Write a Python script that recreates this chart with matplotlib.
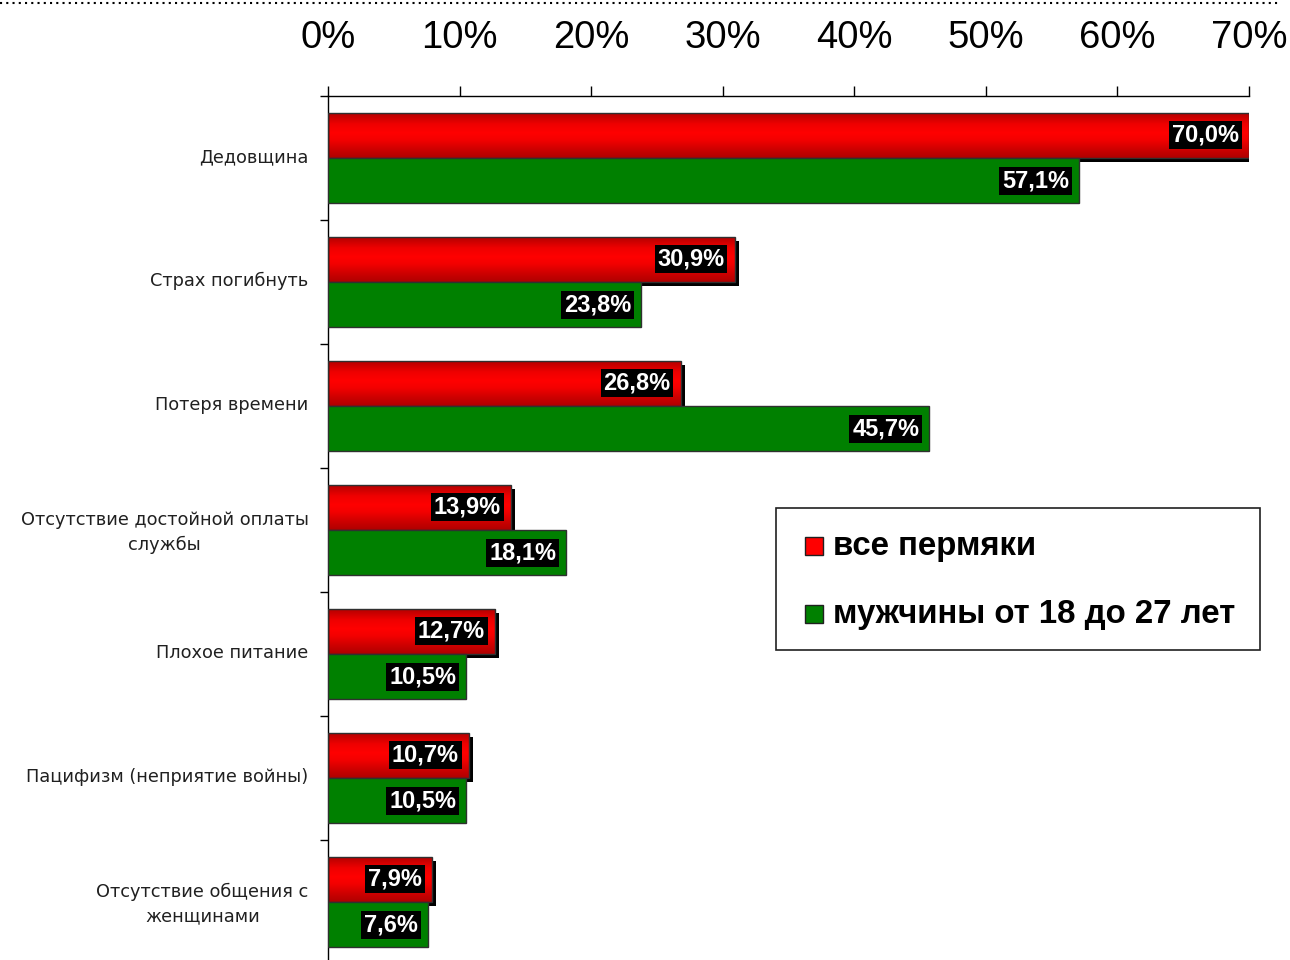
import matplotlib
matplotlib.use("Agg")
import matplotlib.pyplot as plt
import numpy as np
from matplotlib.patches import Rectangle
from matplotlib.lines import Line2D
from matplotlib.colors import LinearSegmentedColormap
from matplotlib.transforms import ScaledTranslation
import matplotlib.patheffects as pe

categories = [
    "Дедовщина",
    "Страх погибнуть",
    "Потеря времени",
    "Отсутствие достойной оплаты\nслужбы",
    "Плохое питание",
    "Пацифизм (неприятие войны)",
    "Отсутствие общения с\nженщинами",
]
all_perm = [70.0, 30.9, 26.8, 13.9, 12.7, 10.7, 7.9]
men_18_27 = [57.1, 23.8, 45.7, 18.1, 10.5, 10.5, 7.6]
series_names = ["все пермяки", "мужчины от 18 до 27 лет"]
xticks = [0, 10, 20, 30, 40, 50, 60, 70]
xtick_labels = [f"{t}%" for t in xticks]

W, H = 1290, 960
fig = plt.figure(figsize=(W / 100, H / 100), dpi=100)
ax = fig.add_axes([328 / W, -4 / H, (1249 - 328) / W, (964 - 96) / H])

n = len(categories)
y = np.arange(n)
bh = 0.363
red_c = y - 0.185
green_c = y + 0.185

# red bars with black shadow
red_bars = ax.barh(red_c, all_perm, height=bh, color="#ff0000", edgecolor="none", zorder=2)
for b in red_bars:
    b.set_path_effects([pe.SimplePatchShadow(offset=(3, -3), shadow_rgbFace="black", alpha=1.0), pe.Normal()])

# gradient overlay on red bars (dark top, bright middle, dark bottom)
cmap = LinearSegmentedColormap.from_list(
    "redgrad", [(0.0, "#b00000"), (0.25, "#ee0000"), (0.45, "#ff0000"), (0.6, "#f40000"),
                (0.85, "#c80000"), (1.0, "#b00000")])
grad = np.linspace(0, 1, 64).reshape(-1, 1)
for b in red_bars:
    x0, y0, w, h = b.get_x(), b.get_y(), b.get_width(), b.get_height()
    im = ax.imshow(grad, cmap=cmap, aspect="auto", extent=[x0, x0 + w, y0 + h, y0],
                   origin="upper", zorder=2.5, interpolation="bilinear")
    im.set_clip_path(b)
ax.barh(red_c, all_perm, height=bh, facecolor="none", edgecolor="#303030", linewidth=1.0, zorder=2.6)

green_bars = ax.barh(green_c, men_18_27, height=bh, color="#008000", edgecolor="#303030", linewidth=1.0, zorder=3)

# value labels
def add_labels(vals, centers):
    for v, c in zip(vals, centers):
        ax.annotate(f"{v:.1f}%".replace(".", ","), xy=(v, c), xytext=(-10, 0), textcoords="offset pixels",
                    ha="right", va="center", color="white", fontsize=17, fontweight="bold",
                    family="Liberation Sans", zorder=5,
                    bbox=dict(boxstyle="square,pad=0.12", facecolor="black", edgecolor="none"))

add_labels(all_perm, red_c)
add_labels(men_18_27, green_c)

ax.set_xlim(0, 70)
ax.set_ylim(n - 0.5, -0.5)

# spines
for s in ["right", "bottom"]:
    ax.spines[s].set_visible(False)
ax.spines["top"].set_color("black")
ax.spines["left"].set_color("black")
ax.spines["top"].set_linewidth(1.0)
ax.spines["left"].set_linewidth(1.0)

ax.xaxis.tick_top()
ax.set_xticks(xticks)
ax.set_xticklabels(xtick_labels, fontsize=27.5, family="Liberation Sans")
ax.tick_params(axis="x", direction="out", length=7.5, width=1, pad=21, colors="black")

ax.set_yticks(y)
ax.set_yticklabels(categories, fontsize=12.8, family="DejaVu Sans", color="#202020",
                   multialignment="center", linespacing=1.45)
ax.tick_params(axis="y", which="major", length=0, pad=14)
shift = ScaledTranslation(0, 3 / 100, fig.dpi_scale_trans)
for lbl in ax.get_yticklabels():
    lbl.set_transform(lbl.get_transform() + shift)
ax.set_yticks(np.arange(n + 1) - 0.5, minor=True)
ax.tick_params(axis="y", which="minor", direction="out", length=6, width=1)

# legend (manual)
lx0, ly0, lx1, ly1 = 776, 508, 1260, 650
fig.patches.append(Rectangle((lx0 / W, 1 - ly1 / H), (lx1 - lx0) / W, (ly1 - ly0) / H,
                             transform=fig.transFigure, facecolor="white", edgecolor="#202020",
                             linewidth=1.2, zorder=10))
for name, col, ycen in zip(series_names, ["#ff0000", "#008000"], [546, 614]):
    fig.patches.append(Rectangle((805 / W, 1 - (ycen + 9) / H), 18 / W, 18 / H,
                                 transform=fig.transFigure, facecolor=col, edgecolor="#202020",
                                 linewidth=1.0, zorder=11))
    fig.text(833 / W, 1 - ycen / H, name, fontsize=23.8, fontweight="bold", family="Liberation Sans",
             ha="left", va="center", zorder=12)

# dotted top line
fig.add_artist(Line2D([0, 1280 / W], [1 - 3 / H, 1 - 3 / H], transform=fig.transFigure,
                      color="black", linestyle=(0, (1, 2)), linewidth=1.5))

fig.savefig("out.png", dpi=100)
